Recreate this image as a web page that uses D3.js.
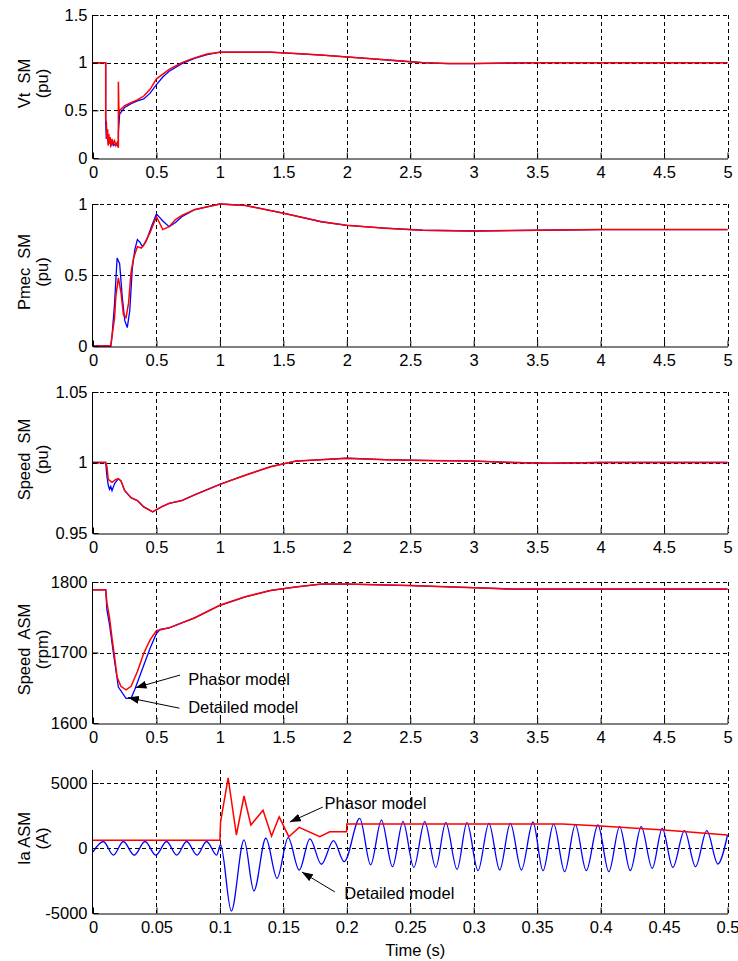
<!DOCTYPE html>
<html><head><meta charset="utf-8">
<script src="https://cdn.jsdelivr.net/npm/d3@7"></script>
<style>
body{margin:0;background:#fff}
svg text{font-family:"Liberation Sans",Arial,Helvetica,sans-serif;fill:#000}
</style>
</head><body>
<svg id="c" width="738" height="961"></svg>
<script>
// ---------------- DATA ----------------
const xTicksLong = [0,0.5,1,1.5,2,2.5,3,3.5,4,4.5,5];
const xLabelsLong = ["0","0.5","1","1.5","2","2.5","3","3.5","4","4.5","5"];
const xTicksShort = [0,0.05,0.1,0.15,0.2,0.25,0.3,0.35,0.4,0.45,0.5];
const xLabelsShort = ["0","0.05","0.1","0.15","0.2","0.25","0.3","0.35","0.4","0.45","0.5"];

const vtTicks = [0,0.5,1,1.5];       const vtLabels = ["0","0.5","1","1.5"];
const pmTicks = [0,0.5,1];           const pmLabels = ["0","0.5","1"];
const spTicks = [0.95,1,1.05];       const spLabels = ["0.95","1","1.05"];
const asTicks = [1600,1700,1800];    const asLabels = ["1600","1700","1800"];
const iaTicks = [-5000,0,5000];      const iaLabels = ["-5000","0","5000"];

// Vt SM (pu)
const vtTail = [[1.0,1.11],[1.2,1.11],[1.4,1.11],[1.6,1.095],[1.8,1.08],[2.0,1.06],[2.2,1.04],[2.4,1.02],[2.6,1.0],[2.8,0.99],[3.0,0.99],[3.2,0.995],[3.5,1.0],[4,1.0],[5,1.0]];
const vtPhasor = [[0,1],[0.1,1],[0.1,0.4],[0.105,0.38],[0.11,0.2],[0.115,0.3],[0.12,0.13],[0.125,0.25],[0.13,0.15],[0.135,0.22],[0.14,0.12],[0.15,0.2],[0.16,0.15],[0.17,0.18],[0.18,0.13],[0.19,0.16],[0.2,0.11],[0.2,0.8],[0.205,0.45],[0.21,0.5],[0.25,0.55],[0.3,0.58],[0.35,0.61],[0.4,0.65],[0.45,0.72],[0.5,0.83],[0.55,0.88],[0.6,0.93],[0.7,1.0],[0.8,1.05],[0.9,1.09]].concat(vtTail);
const vtDetailed = [[0,1],[0.1,1],[0.1,0.37],[0.105,0.2],[0.11,0.3],[0.12,0.15],[0.13,0.2],[0.14,0.13],[0.15,0.17],[0.16,0.13],[0.18,0.15],[0.2,0.12],[0.2,0.27],[0.21,0.46],[0.25,0.53],[0.3,0.57],[0.35,0.6],[0.4,0.62],[0.45,0.68],[0.5,0.77],[0.55,0.85],[0.6,0.91],[0.7,0.99],[0.8,1.045],[0.9,1.085]].concat(vtTail);

// Pmec SM (pu)
const pmTail = [[0.8,0.96],[0.9,0.98],[1.0,1.0],[1.2,0.99],[1.5,0.935],[1.8,0.875],[2.0,0.85],[2.3,0.83],[2.6,0.815],[3.0,0.81],[3.5,0.815],[4,0.82],[5,0.82]];
const pmPhasor = [[0,0],[0.14,0],[0.15,0.07],[0.17,0.2],[0.18,0.35],[0.2,0.48],[0.22,0.38],[0.24,0.22],[0.26,0.2],[0.28,0.3],[0.3,0.52],[0.32,0.62],[0.35,0.7],[0.38,0.69],[0.4,0.71],[0.45,0.8],[0.5,0.91],[0.55,0.82],[0.6,0.84],[0.65,0.89],[0.7,0.92]].concat(pmTail);
const pmDetailed = [[0,0],[0.14,0],[0.15,0.07],[0.17,0.3],[0.19,0.62],[0.21,0.58],[0.23,0.35],[0.25,0.18],[0.27,0.13],[0.29,0.25],[0.31,0.55],[0.33,0.68],[0.35,0.75],[0.37,0.73],[0.39,0.7],[0.42,0.74],[0.46,0.84],[0.5,0.93],[0.55,0.88],[0.6,0.84],[0.65,0.87],[0.7,0.91]].concat(pmTail);

// Speed SM (pu)
const spTail = [[0.2,0.9885],[0.22,0.987],[0.25,0.98],[0.3,0.975],[0.35,0.973],[0.4,0.9685],[0.47,0.965],[0.55,0.969],[0.6,0.971],[0.7,0.973],[0.8,0.977],[1.0,0.9845],[1.2,0.991],[1.4,0.997],[1.6,1.001],[1.8,1.002],[2.0,1.003],[2.3,1.002],[2.6,1.0015],[3.0,1.001],[3.3,1.0],[3.6,0.9995],[4,1.0],[5,1.0]];
const spPhasor = [[0,1],[0.1,1],[0.11,0.997],[0.12,0.988],[0.15,0.986],[0.18,0.988]].concat(spTail);
const spDetailed = [[0,1],[0.1,1],[0.11,0.99],[0.12,0.984],[0.13,0.981],[0.14,0.983],[0.15,0.98],[0.17,0.985]].concat(spTail);

// Speed ASM (rpm)
const asTail = [[0.6,1735],[0.7,1742],[0.8,1749],[1.0,1767],[1.2,1779],[1.4,1788],[1.6,1793],[1.8,1797],[2.0,1797],[2.5,1795],[3.0,1792],[3.3,1790],[5,1790]];
const asPhasor = [[0,1789],[0.1,1789],[0.11,1770],[0.13,1750],[0.15,1720],[0.17,1694],[0.19,1665],[0.22,1652],[0.26,1647],[0.3,1652],[0.35,1673],[0.4,1699],[0.45,1718],[0.5,1731],[0.55,1733]].concat(asTail);
const asDetailed = [[0,1789],[0.1,1789],[0.11,1760],[0.13,1740],[0.16,1700],[0.2,1651],[0.26,1635],[0.3,1635],[0.33,1648],[0.4,1682],[0.45,1706],[0.5,1727],[0.53,1733]].concat(asTail);

// Ia ASM (A), time 0..0.5 s
const iaPhasor = [[0,600],[0.1,600],[0.1005,2000],[0.1065,5400],[0.113,1000],[0.119,4000],[0.1244,1770],[0.134,2900],[0.1407,920],[0.1467,2400],[0.1543,870],[0.1625,1590],[0.1787,870],[0.1866,1250],[0.1998,1250],[0.2,1850],[0.37,1850],[0.4,1690],[0.45,1380],[0.5,1000]];
const iaDetailed = [[0,-300],[0.0081,500],[0.0161,-550],[0.0239,500],[0.0325,-550],[0.041,500],[0.0495,-550],[0.058,500],[0.066,-550],[0.0738,500],[0.082,-550],[0.0895,500],[0.0975,-550],[0.1005,250],[0.109,-4850],[0.119,620],[0.1268,-3300],[0.1362,750],[0.1451,-2330],[0.1538,800],[0.1625,-1700],[0.1709,700],[0.18,-1250],[0.1895,560],[0.198,-1050],[0.2102,2280],[0.2188,-1300],
 [0.2273,2150],[0.236,-1436],[0.2443,2030],[0.2528,-1490],[0.2614,2030],[0.2701,-1490],[0.278,1950],[0.2869,-1641],[0.2947,1950],[0.3034,-1744],[0.312,1900],[0.3205,-1692],[0.3289,1900],[0.3376,-1692],[0.3467,2000],[0.3546,-1744],[0.363,1850],[0.3717,-1820],[0.3801,1800],[0.3887,-1744],[0.3979,1770],[0.4065,-1820],[0.415,1640],[0.4234,-1744],[0.432,1640],[0.4407,-1564],[0.4486,1510],[0.4569,-1490],[0.4661,1330],[0.4748,-1436],[0.4837,1330],[0.4924,-1230],[0.5,1000]];

// annotations (data coordinates)
const annoAS = [
  {label:"Phasor model", tx:0.75, ty:1662, x1:0.686, y1:1668, x2:0.335, y2:1650},
  {label:"Detailed model", tx:0.75, ty:1622, x1:0.681, y1:1621, x2:0.275, y2:1636}
];
const annoIA = [
  {label:"Phasor model", tx:0.1825, ty:3460, x1:0.1811, y1:3150, x2:0.1551, y2:2000},
  {label:"Detailed model", tx:0.198, ty:-3460, x1:0.1906, y1:-3380, x2:0.1646, y2:-1850}
];

// ---------------- DRAW ----------------
const svg = d3.select("#c");
const L = 93, R = 727.5;
const FS = 16.5;
const blue = "#0000ff", red = "#ff0000";

const defs = svg.append("defs");
defs.append("marker").attr("id","ah").attr("markerUnits","userSpaceOnUse")
  .attr("markerWidth",11).attr("markerHeight",8).attr("refX",11).attr("refY",4)
  .attr("orient","auto")
  .append("path").attr("d","M0,0L11,4L0,8Z").attr("fill","#000");

const panels = [
  {top:15, bot:158, xd:[0,5], yd:[0,1.5], xt:xTicksLong, xl:xLabelsLong, yt:vtTicks, yl:vtLabels, lab:["Vt  SM","(pu)"], s:[vtDetailed, vtPhasor]},
  {top:204, bot:346, xd:[0,5], yd:[0,1], xt:xTicksLong, xl:xLabelsLong, yt:pmTicks, yl:pmLabels, lab:["Pmec  SM","(pu)"], s:[pmDetailed, pmPhasor]},
  {top:392, bot:533, xd:[0,5], yd:[0.95,1.05], xt:xTicksLong, xl:xLabelsLong, yt:spTicks, yl:spLabels, lab:["Speed  SM","(pu)"], s:[spDetailed, spPhasor]},
  {top:582, bot:723, xd:[0,5], yd:[1600,1800], xt:xTicksLong, xl:xLabelsLong, yt:asTicks, yl:asLabels, lab:["Speed  ASM","(rpm)"], s:[asDetailed, asPhasor], anno:annoAS},
  {top:770, bot:913, xd:[0,0.5], yd:[-5000,6000], xt:xTicksShort, xl:xLabelsShort, yt:iaTicks, yl:iaLabels, lab:["Ia ASM","(A)"], s:[iaDetailed, iaPhasor], anno:annoIA, smoothBlue:true}
];

panels.forEach(p => {
  const x = d3.scaleLinear().domain(p.xd).range([L, R]);
  const y = d3.scaleLinear().domain(p.yd).range([p.bot, p.top]);
  const g = svg.append("g");

  // grid
  const grid = g.append("g").attr("stroke","#000").attr("stroke-width",1).attr("stroke-dasharray","4,3").attr("fill","none");
  p.xt.forEach(v => { if (v !== p.xd[0]) {
    const xx = Math.round(x(v)) + 0.5;
    grid.append("line").attr("x1",xx).attr("x2",xx).attr("y1",p.top).attr("y2",p.bot);
  }});
  p.yt.forEach(v => { if (v !== p.yd[0]) {
    const yy = Math.round(y(v)) + 0.5;
    grid.append("line").attr("x1",L).attr("x2",R).attr("y1",yy).attr("y2",yy);
  }});

  // series
  const lineB = d3.line().x(d=>x(d[0])).y(d=>y(d[1])).curve(p.smoothBlue ? d3.curveMonotoneX : d3.curveLinear);
  const lineR = d3.line().x(d=>x(d[0])).y(d=>y(d[1]));
  g.append("path").attr("d", lineB(p.s[0])).attr("fill","none").attr("stroke",blue).attr("stroke-width",1.3);
  g.append("path").attr("d", lineR(p.s[1])).attr("fill","none").attr("stroke",red).attr("stroke-width",1.5);

  // axes
  const xa = d3.axisBottom(x).tickValues(p.xt).tickFormat((d,i)=>p.xl[i]).tickSizeInner(-6).tickSizeOuter(0).tickPadding(8);
  const ya = d3.axisLeft(y).tickValues(p.yt).tickFormat((d,i)=>p.yl[i]).tickSizeInner(-6).tickSizeOuter(0).tickPadding(5);
  const gx = g.append("g").attr("transform",`translate(0,${p.bot+0.5})`).call(xa);
  const gy = g.append("g").attr("transform",`translate(${L-0.5},0)`).call(ya);
  [gx, gy].forEach(a => {
    a.attr("font-size",FS).attr("font-family",null);
    a.selectAll("text").attr("font-size",FS);
    a.selectAll("line,path").attr("stroke","#000");
  });
  gy.select(".domain").attr("d",`M0,${p.bot+0.5}V${p.top}`);

  // y label
  const cy = (p.top + p.bot)/2 - 3;
  const lt = g.append("text").attr("transform",`translate(32,${cy}) rotate(-90)`).attr("text-anchor","middle").attr("font-size",FS).style("white-space","pre");
  lt.append("tspan").attr("x",0).attr("y",-2).text(p.lab[0]);
  lt.append("tspan").attr("x",0).attr("y",16).text(p.lab[1]);

  // annotations
  (p.anno||[]).forEach(a => {
    g.append("line").attr("x1",x(a.x1)).attr("y1",y(a.y1)).attr("x2",x(a.x2)).attr("y2",y(a.y2))
      .attr("stroke","#000").attr("stroke-width",1).attr("marker-end","url(#ah)");
    g.append("text").attr("x",x(a.tx)).attr("y",y(a.ty)).attr("dy","0.35em").attr("font-size",FS).text(a.label);
  });
});

svg.append("text").attr("x",(L+R)/2+5).attr("y",950).attr("dy","0.35em").attr("text-anchor","middle").attr("font-size",FS).text("Time (s)");
</script>
</body></html>
